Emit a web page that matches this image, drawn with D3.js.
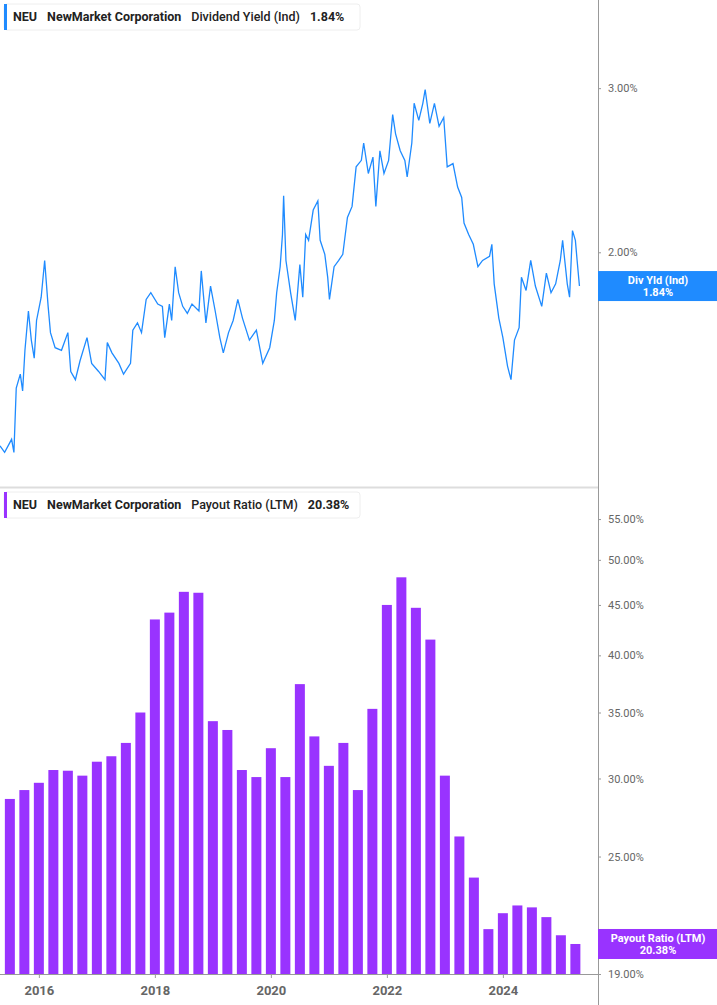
<!DOCTYPE html>
<html><head><meta charset="utf-8">
<script src="https://cdn.jsdelivr.net/npm/d3@7/dist/d3.min.js"></script>
<style>body{margin:0;background:#fff;font-family:Roboto,"Open Sans",sans-serif}</style>
</head><body><svg id="c" width="717" height="1005"></svg>
<script>
const yieldYears=[2015.33,2015.41,2015.53,2015.57,2015.61,2015.68,2015.72,2015.76,2015.82,2015.87,2015.92,2015.96,2016.04,2016.10,2016.16,2016.20,2016.28,2016.39,2016.50,2016.55,2016.63,2016.71,2016.83,2016.91,2017.03,2017.14,2017.18,2017.26,2017.38,2017.46,2017.58,2017.62,2017.70,2017.77,2017.85,2017.93,2018.05,2018.13,2018.17,2018.25,2018.29,2018.35,2018.41,2018.48,2018.56,2018.64,2018.76,2018.80,2018.88,2018.96,2019.04,2019.12,2019.18,2019.27,2019.35,2019.43,2019.51,2019.63,2019.75,2019.86,2019.98,2020.06,2020.10,2020.16,2020.20,2020.22,2020.26,2020.34,2020.42,2020.50,2020.55,2020.60,2020.65,2020.73,2020.81,2020.85,2020.93,2020.98,2021.01,2021.09,2021.17,2021.24,2021.32,2021.40,2021.47,2021.56,2021.60,2021.68,2021.76,2021.81,2021.88,2021.95,2022.03,2022.10,2022.15,2022.23,2022.31,2022.35,2022.43,2022.47,2022.55,2022.62,2022.66,2022.74,2022.82,2022.90,2022.98,2023.04,2023.14,2023.22,2023.29,2023.33,2023.41,2023.49,2023.57,2023.65,2023.77,2023.81,2023.85,2023.93,2024.00,2024.08,2024.14,2024.20,2024.28,2024.32,2024.40,2024.48,2024.56,2024.67,2024.75,2024.83,2024.91,2024.99,2025.03,2025.11,2025.15,2025.20,2025.25,2025.28,2025.32];
const yieldValues=[1.24,1.22,1.26,1.22,1.43,1.48,1.42,1.57,1.73,1.61,1.54,1.69,1.79,1.96,1.75,1.64,1.58,1.57,1.64,1.49,1.46,1.53,1.62,1.52,1.49,1.46,1.60,1.56,1.52,1.48,1.52,1.65,1.68,1.64,1.78,1.81,1.76,1.75,1.62,1.76,1.69,1.93,1.81,1.75,1.72,1.76,1.73,1.91,1.68,1.84,1.73,1.62,1.56,1.64,1.69,1.78,1.70,1.61,1.65,1.52,1.58,1.69,1.81,1.93,2.09,2.30,1.96,1.81,1.69,1.94,1.79,2.09,2.06,2.22,2.27,2.06,1.99,1.88,1.78,1.93,1.96,1.99,2.18,2.24,2.47,2.51,2.62,2.43,2.53,2.24,2.57,2.43,2.51,2.81,2.68,2.57,2.51,2.41,2.62,2.89,2.77,2.89,2.99,2.75,2.89,2.73,2.79,2.47,2.49,2.35,2.29,2.15,2.09,2.04,1.93,1.96,1.98,2.04,1.85,1.70,1.62,1.51,1.46,1.61,1.66,1.88,1.82,1.96,1.84,1.75,1.90,1.81,1.85,1.96,2.06,1.85,1.79,2.11,2.06,1.96,1.84];
const payoutQuarters=d3.range(40).map(i=>2015.5+0.25*i);
const payoutValues=[28.6,29.2,29.7,30.6,30.55,30.2,31.2,31.6,32.6,35.0,43.5,44.2,46.4,46.3,34.3,33.6,30.6,30.1,32.2,30.1,37.4,33.1,30.9,32.6,29.2,35.3,45.0,48.0,44.7,41.5,30.2,26.2,23.8,21.1,21.9,22.3,22.2,21.7,20.8,20.38];
const yearTicks=[2016,2018,2020,2022,2024];
const yieldTicks=[2,3];
const payoutTicks=[19,25,30,35,40,45,50,55];

const svg=d3.select("#c");
const W=598, blue="#1f8bff", purple="#9933ff", grey="#666";
const x=d3.scaleLinear().domain([2015.33,2025.64]).range([0,W]);
const y1=d3.scaleLog().domain([1.12,3.73]).range([487,0]);
const y2=d3.scaleLog().domain([19,59]).range([974,489]);

// panel separators / axis line
svg.append("line").attr("x1",W+0.5).attr("x2",W+0.5).attr("y1",0).attr("y2",1005).attr("stroke","#999");
svg.append("line").attr("x1",0).attr("x2",W).attr("y1",487.5).attr("y2",487.5).attr("stroke","#ddd").attr("stroke-width",2);

// line
svg.append("path").datum(yieldYears.map((d,i)=>[d,yieldValues[i]]))
 .attr("d",d3.line().x(d=>x(d[0])).y(d=>y1(d[1])))
 .attr("fill","none").attr("stroke",blue).attr("stroke-width",1.3);

// bars
svg.selectAll("rect.bar").data(payoutValues).join("rect").attr("class","bar")
 .attr("x",(d,i)=>x(payoutQuarters[i])-5).attr("width",10)
 .attr("y",d=>y2(d)).attr("height",d=>974-y2(d)).attr("fill",purple);
svg.append("line").attr("x1",0).attr("x2",W).attr("y1",974.5).attr("y2",974.5).attr("stroke","#999");

// right axes
const ax1=svg.append("g").attr("transform",`translate(${W},0)`)
 .call(d3.axisRight(y1).tickValues(yieldTicks).tickSize(3).tickFormat(d=>d.toFixed(2)+"%"));
const ax2=svg.append("g").attr("transform",`translate(${W},0)`)
 .call(d3.axisRight(y2).tickValues(payoutTicks).tickSize(3).tickFormat(d=>d.toFixed(2)+"%"));
[ax1,ax2].forEach(a=>{a.select(".domain").remove();a.selectAll("line").attr("stroke","#999");
 a.selectAll("text").attr("x",10).attr("fill",grey).style("font-size","11px").style("font-family","Roboto");});

// x axis
const ax3=svg.append("g").attr("transform","translate(0,974)")
 .call(d3.axisBottom(x).tickValues(yearTicks).tickSize(4).tickFormat(d3.format("d")));
ax3.select(".domain").remove();
ax3.selectAll("line").attr("stroke","#999");
ax3.selectAll("text").attr("y",12).attr("fill",grey).style("font-size","13px").style("font-weight","bold").style("font-family","Roboto");

// legends
function legend(y,color,metric,val){
 const g=svg.append("g").attr("transform",`translate(4,${y})`);
 g.append("rect").attr("width",356).attr("height",26).attr("rx",3).attr("fill","#fff").attr("stroke","#eee");
 g.append("rect").attr("width",3).attr("height",26).attr("fill",color);
 const t=g.append("text").attr("x",9).attr("y",17).style("font-size","12.5px").style("font-family","Roboto").attr("fill","#222");
 t.append("tspan").text("NEU").style("font-weight","bold");
 t.append("tspan").attr("dx",10).text("NewMarket Corporation").style("font-weight","bold");
 t.append("tspan").attr("dx",10).text(metric).style("font-weight","500");
 t.append("tspan").attr("dx",10).text(val).style("font-weight","bold");
}
legend(4,blue,"Dividend Yield (Ind)","1.84%");
legend(492,purple,"Payout Ratio (LTM)","20.38%");

// end labels
function tag(yc,color,l1,l2){
 const g=svg.append("g").attr("transform",`translate(${W},${yc-15})`);
 g.append("rect").attr("width",119).attr("height",30).attr("fill",color);
 g.append("text").attr("x",60).attr("y",13).attr("text-anchor","middle").attr("fill","#fff").style("font-size","11px").style("font-weight","bold").text(l1);
 g.append("text").attr("x",60).attr("y",25).attr("text-anchor","middle").attr("fill","#fff").style("font-size","11px").style("font-weight","bold").text(l2);
}
tag(y1(1.84),blue,"Div Yld (Ind)","1.84%");
tag(y2(20.38),purple,"Payout Ratio (LTM)","20.38%");
</script></body></html>
